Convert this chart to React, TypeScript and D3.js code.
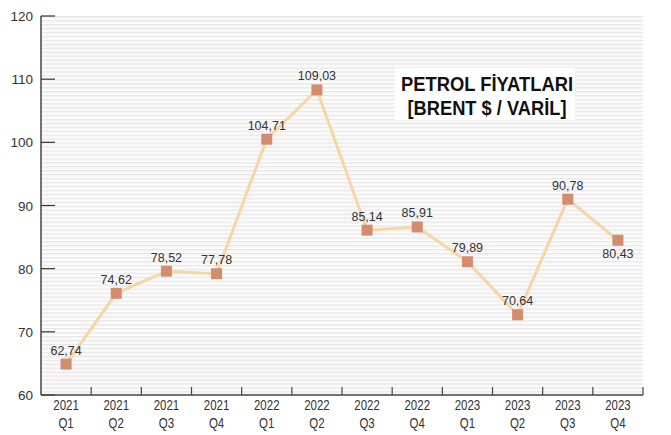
import React from "react";
import * as d3 from "d3";

// plotted positions and the printed labels
const years = ["2021", "2021", "2021", "2021", "2022", "2022", "2022", "2022", "2023", "2023", "2023", "2023"];
const quarters = ["Q1", "Q2", "Q3", "Q4", "Q1", "Q2", "Q3", "Q4", "Q1", "Q2", "Q3", "Q4"];
const plotted = [64.9, 76.1, 79.6, 79.2, 100.5, 108.3, 86.1, 86.6, 81.1, 72.7, 91.0, 84.5];
const labels = ["62,74", "74,62", "78,52", "77,78", "104,71", "109,03", "85,14", "85,91", "79,89", "70,64", "90,78", "80,43"];
const labelSide = ["up", "up", "up", "up", "up", "up", "up", "up", "up", "up", "up", "down"];
const yTicks = [60, 70, 80, 90, 100, 110, 120];

const W = 671;
const H = 435;
const m = { top: 16, right: 28, bottom: 40, left: 41 };

export default function App() {
  const keys = years.map((y, i) => `${y} ${quarters[i]}`);
  const x = d3
    .scaleBand()
    .domain(keys)
    .range([m.left, W - m.right]);
  const y = d3
    .scaleLinear()
    .domain([60, 120])
    .range([H - m.bottom, m.top]);

  const pts = plotted.map((v, i) => [x(keys[i])! + x.bandwidth() / 2, y(v)] as [number, number]);
  const line = d3.line();
  const font = "'Liberation Sans', Arial, sans-serif";
  const bottom = H - m.bottom;

  return (
    <svg width={W} height={H} style={{ position: "absolute", left: 0, top: 0 }} fontFamily={font}>
      <defs>
        <pattern id="stripes" width={8} height={3.95} patternUnits="userSpaceOnUse" y={m.top}>
          <rect width={8} height={3.95} fill="#ffffff" />
          <rect y={0} width={8} height={1.3} fill="#e6e6e6" />
          <rect y={1.3} width={8} height={1.2} fill="#f3f3f3" />
        </pattern>
      </defs>
      <rect x={0} y={0} width={W} height={H} fill="#fff" />
      <rect x={m.left} y={m.top} width={W - m.right - m.left} height={bottom - m.top} fill="url(#stripes)" />

      {/* title */}
      <rect x={395} y={68} width={180} height={52} fill="#fff" />
      <text x={487} y={91} textAnchor="middle" fontSize={20} fontWeight="bold" fill="#111"
        textLength={172} lengthAdjust="spacingAndGlyphs">PETROL FİYATLARI</text>
      <text x={487} y={115} textAnchor="middle" fontSize={20} fontWeight="bold" fill="#111"
        textLength={159} lengthAdjust="spacingAndGlyphs">[BRENT $ / VARİL]</text>

      {/* y axis */}
      <line x1={m.left} x2={m.left} y1={m.top} y2={bottom} stroke="#444" strokeWidth={1.5} />
      {yTicks.map((t) => (
        <g key={t}>
          <line x1={m.left} x2={m.left + 14} y1={y(t)} y2={y(t)} stroke="#333" strokeWidth={1.2} />
          <text x={33} y={y(t) + 5} textAnchor="end" fontSize={13.5} fill="#333">{t}</text>
        </g>
      ))}

      {/* x axis */}
      <line x1={m.left} x2={W - m.right} y1={bottom} y2={bottom} stroke="#444" strokeWidth={1.5} />
      {keys.map((k, i) => {
        const x0 = x(k)!;
        const cx = x0 + x.bandwidth() / 2;
        return (
          <g key={k}>
            <line x1={x0 + x.bandwidth()} x2={x0 + x.bandwidth()} y1={bottom} y2={bottom - 8} stroke="#444" strokeWidth={1.2} />
            <text transform={`translate(${cx},${bottom + 15}) scale(0.82,1)`} textAnchor="middle" fontSize={14} fill="#333">{years[i]}</text>
            <text transform={`translate(${cx},${bottom + 33}) scale(0.82,1)`} textAnchor="middle" fontSize={14} fill="#333">{quarters[i]}</text>
          </g>
        );
      })}

      {/* series */}
      <path d={line(pts) || ""} fill="none" stroke="#f6d6a4" strokeWidth={3} />
      {pts.map(([px, py], i) => (
        <g key={i}>
          <rect x={px - 5.5} y={py - 5.5} width={11} height={11} fill="#d38c6d" />
          <text x={px} y={labelSide[i] === "up" ? py - 9.5 : py + 17.5} textAnchor="middle" fontSize={12.5} fill="#333">
            {labels[i]}
          </text>
        </g>
      ))}
    </svg>
  );
}
